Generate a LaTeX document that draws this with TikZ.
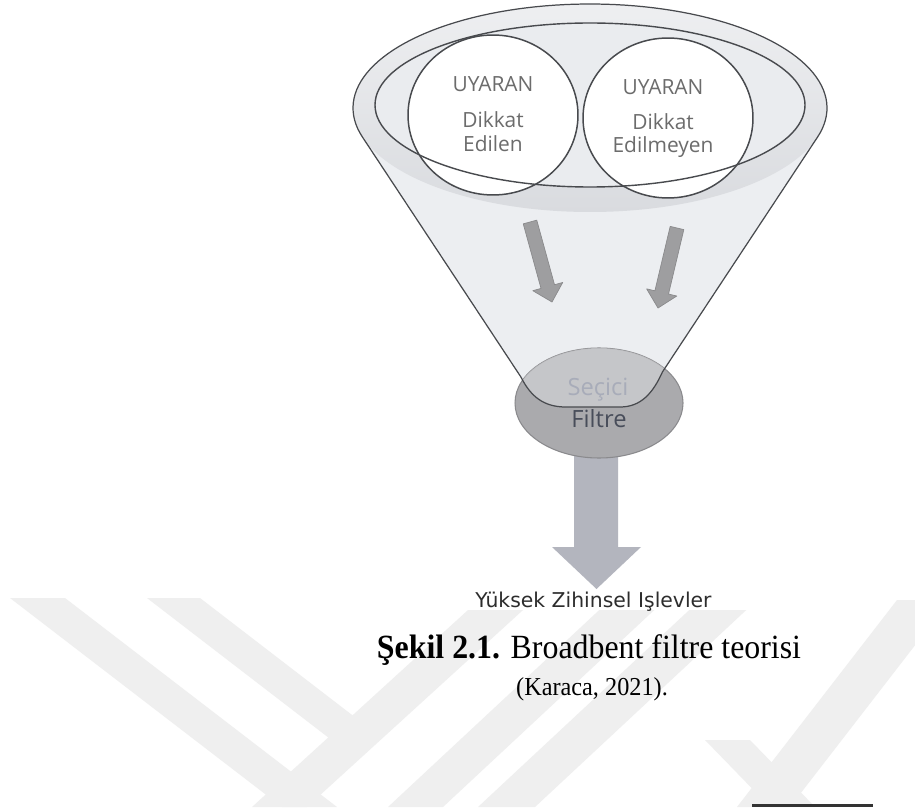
\documentclass[tikz,border=0pt]{standalone}
\usepackage{fontspec}
\setmainfont{Liberation Serif}
\newfontfamily\figfont{Open Sans}
\newfontfamily\labfont{DejaVu Sans}
\usetikzlibrary{shapes.geometric}

\definecolor{wm}{RGB}{239,239,239}
\definecolor{edge}{RGB}{72,74,78}
\definecolor{conefill}{RGB}{236,238,241}
\definecolor{rimtop}{RGB}{238,239,241}
\definecolor{rimmid}{RGB}{227,229,232}
\definecolor{rimbot}{RGB}{217,219,223}
\definecolor{innerfill}{RGB}{234,236,239}
\definecolor{txtgray}{RGB}{108,108,108}
\definecolor{smallarrow}{RGB}{158,158,160}
\definecolor{smallarrowedge}{RGB}{138,138,140}
\definecolor{filterfill}{RGB}{170,170,173}
\definecolor{filteredge}{RGB}{138,138,141}
\definecolor{bigarrow}{RGB}{179,181,190}
\definecolor{secici}{RGB}{168,172,185}
\definecolor{filtre}{RGB}{72,77,90}
\definecolor{lowtext}{RGB}{45,45,45}

\tikzset{
  circ/.style={ellipse, draw=edge, line width=0.85pt, fill=white,
    minimum width=3.4cm, minimum height=3.2cm, inner sep=0pt},
  ctext/.style={anchor=base, inner sep=0pt, text=txtgray,
    font=\figfont\fontsize{11.9}{14}\selectfont},
  ftext/.style={anchor=base, inner sep=0pt,
    font=\figfont\fontsize{13.5}{16}\selectfont},
  stripe/.style={fill=wm},
  smallarr/.style={fill=smallarrow, draw=smallarrowedge, line width=0.4pt, line join=round},
}

% outline of the funnel below its rim: cone sides and rounded bottom
\def\funnelbody{(362.4,136.9) -- (520.9,377) .. controls (531,397) and (544,407) .. (566,407)
  -- (620,407) .. controls (641,407) and (653,393) .. (662.4,372) -- (817.6,136.9)}

\begin{document}
\begin{tikzpicture}[x=0.02cm, y=-0.02cm]
\useasboundingbox (0,0) rectangle (915,807);
\fill[white] (0,0) rectangle (915,807);

% faint background stripes
\fill[stripe] (10,598) -- (65,598) -- (337,807) -- (282,807) -- cycle;
\fill[stripe] (147,598) -- (200,598) -- (382,738) -- (329,738) -- cycle;
\fill[stripe] (479,600) -- (534,600) -- (307,807) -- (252,807) -- cycle;
\fill[stripe] (610,600) -- (665,600) -- (443,807) -- (388,807) -- cycle;
\fill[stripe] (700,600) -- (757,600) -- (535,807) -- (478,807) -- cycle;
\fill[stripe] (897,600) -- (950,600) -- (790,807) -- (737,807) -- cycle;
\fill[stripe] (705,740) -- (750,740) -- (815,807) -- (770,807) -- cycle;
\fill[white] (258,0) rectangle (782,610);

% funnel body
\fill[conefill] \funnelbody -- cycle;

% output arrow
\fill[bigarrow] (574,440) -- (618,440) -- (618,547) -- (641,547) -- (596.5,589)
  -- (552,547) -- (574,547) -- cycle;

% selective filter
\draw[filteredge, fill=filterfill, line width=0.6pt] (599,403) ellipse [x radius=84, y radius=55];
\begin{scope}
  \clip (599,403) ellipse [x radius=84, y radius=55];
  \fill[conefill, opacity=0.42] \funnelbody -- cycle;
\end{scope}
\node[ftext, text=secici] (sec) at (598,395) {Seçici};
\node[ftext, text=filtre] (fil) at (599,427) {Filtre};

% funnel rim
\shade[top color=rimtop, middle color=rimmid, bottom color=rimbot] (590,108) ellipse [x radius=237, y radius=104];
\fill[innerfill] (590,105) ellipse [x radius=215, y radius=82];

% stimulus circles
\node[circ] (lc) at (493,115) {};
\node[circ] (rc) at (668,118) {};
\node[ctext] (lu) at (493,92) {UYARAN};
\node[ctext] (ld) at (493,128) {Dikkat};
\node[ctext] (le) at (493,152) {Edilen};
\node[ctext] (ru) at (663,95) {UYARAN};
\node[ctext] (rd) at (663,130) {Dikkat};
\node[ctext] (re) at (663,153) {Edilmeyen};

% inner rim outline
\draw[edge, line width=0.8pt] (590,105) ellipse [x radius=215, y radius=82];

% funnel outline
\draw[edge, line width=0.7pt, line join=round]
  plot[domain=-16.15:196.15, samples=90] ({590+237*cos(\x)},{108-104*sin(\x)})
  -- (520.9,377) .. controls (531,397) and (544,407) .. (566,407)
  -- (620,407) .. controls (641,407) and (653,393) .. (662.4,372) -- cycle;

% flow arrows inside the funnel
\filldraw[smallarr] (536.75,220.15) -- (554.51,284.73) -- (562.70,282.47) -- (552,302)
  -- (532.82,290.69) -- (541.01,288.43) -- (523.25,223.85) -- cycle;
\filldraw[smallarr] (683.81,229.62) -- (668.51,294.05) -- (676.78,296.01) -- (658,308)
  -- (646.62,288.85) -- (654.89,290.81) -- (670.19,226.38) -- cycle;

% output label and caption
\node[anchor=base, inner sep=0pt, text=lowtext, font=\labfont\fontsize{11.6}{14}\selectfont]
  (out) at (593.5,607) {Yüksek Zihinsel Işlevler};
\node[anchor=base, inner sep=0pt, font=\fontsize{19.3}{23}\selectfont]
  (cap) at (589,658) {\scalebox{0.94}[1]{\textbf{Şekil 2.1.} Broadbent filtre teorisi}};
\node[anchor=base, inner sep=0pt, font=\fontsize{14.7}{18}\selectfont]
  (src) at (592,695) {\scalebox{0.94}[1]{(Karaca, 2021).}};

% page rule
\fill[black!80] (752,804) rectangle (873,807);
\end{tikzpicture}
\end{document}
